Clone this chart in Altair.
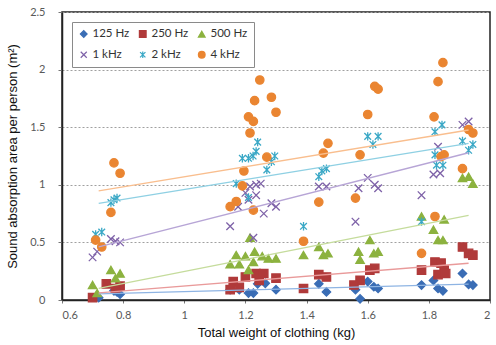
import altair as alt
import pandas as pd

series_names = ["125 Hz", "250 Hz", "500 Hz", "1 kHz", "2 kHz", "4 kHz"]

# 125 Hz (blue diamonds)
x_125 = [0.72, 0.77, 0.78, 0.79, 1.15, 1.18, 1.226, 1.24, 1.265, 1.30, 1.21,
         1.44, 1.465, 1.60, 1.62, 1.634, 1.575, 1.56,
         1.776, 1.815, 1.91, 1.93, 1.944, 1.83, 1.846]
y_125 = [0.02, 0.08, 0.07, 0.05, 0.09, 0.09, 0.06, 0.14, 0.145, 0.09, 0.06,
         0.14, 0.07, 0.16, 0.115, 0.10, 0.01, 0.09,
         0.13, 0.17, 0.23, 0.135, 0.13, 0.10, 0.08]

# 250 Hz (red squares)
x_250 = [0.70, 0.745, 0.79, 0.775, 1.16, 1.20, 1.235, 1.26, 1.30, 1.18, 1.245, 1.15,
         1.39, 1.44, 1.465, 1.607, 1.623, 1.575, 1.555,
         1.91, 1.93, 1.944, 1.776, 1.82, 1.84, 1.85, 1.83, 1.855]
y_250 = [0.02, 0.14, 0.12, 0.10, 0.16, 0.20, 0.23, 0.23, 0.19, 0.11, 0.17, 0.09,
         0.10, 0.22, 0.20, 0.26, 0.275, 0.17, 0.13,
         0.46, 0.405, 0.39, 0.26, 0.33, 0.32, 0.26, 0.22, 0.23]

# 500 Hz (green triangles)
x_500 = [0.70, 0.715, 0.76, 0.775, 0.79,
         1.215, 1.17, 1.20, 1.23, 1.255, 1.275, 1.30, 1.15, 1.18, 1.226, 1.21,
         1.39, 1.44, 1.455, 1.47, 1.607, 1.57, 1.575, 1.62, 1.634,
         1.91, 1.93, 1.944, 1.776, 1.85, 1.815, 1.83, 1.846]
y_500 = [0.13, 0.06, 0.26, 0.19, 0.23,
         0.54, 0.39, 0.38, 0.42, 0.38, 0.36, 0.36, 0.31, 0.31, 0.33, 0.26,
         0.39, 0.46, 0.39, 0.405, 0.52, 0.42, 0.35, 0.405, 0.42,
         1.06, 1.07, 1.01, 0.725, 0.70, 0.61, 0.52, 0.52]

# 1 kHz (purple crosses)
x_1k = [0.70, 0.715, 0.76, 0.775, 0.79,
        1.235, 1.215, 1.20, 1.235, 1.21, 1.25, 1.176, 1.285, 1.30, 1.26, 1.15, 1.226,
        1.44, 1.465, 1.60, 1.623, 1.634, 1.57, 1.56,
        1.91, 1.93, 1.83, 1.815, 1.837, 1.776]
y_1k = [0.37, 0.42, 0.53, 0.51, 0.50,
        1.00, 0.985, 0.93, 0.91, 0.87, 1.01, 0.81, 0.84, 0.81, 0.75, 0.64, 0.54,
        0.985, 0.985, 1.06, 1.00, 0.97, 0.97, 0.68,
        1.52, 1.55, 1.33, 1.09, 1.10, 0.91]

# 2 kHz (cyan asterisks)
x_2k = [0.71, 0.73, 0.76, 0.77, 0.78,
        1.24, 1.235, 1.19, 1.21, 1.225, 1.27, 1.296, 1.285, 1.17, 1.21,
        1.39, 1.465, 1.44, 1.45, 1.60, 1.634, 1.617,
        1.843, 1.82, 1.91, 1.944, 1.93, 1.82, 1.825, 1.846, 1.776]
y_2k = [0.57, 0.59, 0.845, 0.87, 0.885,
        1.37, 1.29, 1.23, 1.23, 1.25, 1.13, 1.25, 1.20, 1.01, 0.89,
        0.64, 1.14, 1.07, 1.12, 1.42, 1.42, 1.35,
        1.52, 1.46, 1.38, 1.35, 1.30, 1.26, 1.17, 1.17, 0.68]

# 4 kHz (orange circles)
x_4k = [0.71, 0.73, 0.76, 0.77, 0.79,
        1.247, 1.23, 1.285, 1.30, 1.21, 1.226, 1.215, 1.27, 1.195, 1.19, 1.17, 1.15, 1.226,
        1.39, 1.47, 1.455, 1.44, 1.60, 1.623, 1.634, 1.575, 1.56,
        1.846, 1.83, 1.817, 1.93, 1.944, 1.84, 1.85, 1.91, 1.82, 1.776]
y_4k = [0.52, 0.46, 0.76, 1.19, 1.10,
        1.91, 1.73, 1.76, 1.63, 1.59, 1.55, 1.45, 1.24, 1.12, 0.99, 0.855, 0.81, 0.78,
        0.51, 1.36, 1.275, 0.85, 1.61, 1.855, 1.83, 1.26, 0.885,
        2.06, 1.895, 1.59, 1.48, 1.45, 1.245, 1.26, 1.14, 0.725, 0.405]

x_ticks = [0.6, 0.8, 1.0, 1.2, 1.4, 1.6, 1.8, 2.0]
y_ticks = [0, 0.5, 1.0, 1.5, 2.0, 2.5]

rows = []
for name, xs, ys in zip(series_names,
                        [x_125, x_250, x_500, x_1k, x_2k, x_4k],
                        [y_125, y_250, y_500, y_1k, y_2k, y_4k]):
    for a, b in zip(xs, ys):
        rows.append({"series": name, "x": a, "y": b})
df = pd.DataFrame(rows)

stroke_colors = ["#3A6DB5", "#B03A3A", "#8CB23F", "#7E62A8", "#3AA8C6", "#EA8531"]
fill_colors = ["#3A6DB5", "#B03A3A", "#8CB23F", "#FFFFFF00", "#FFFFFF00", "#EA8531"]
line_colors = ["#8EB4E3", "#E99A9A", "#C5DC9C", "#B7A5D6", "#8FD0E3", "#F9BE8E"]
shapes = ["diamond", "square", "triangle-up",
          "M-0.9,-0.9L0.9,0.9M-0.9,0.9L0.9,-0.9",
          "M-0.8,-0.8L0.8,0.8M-0.8,0.8L0.8,-0.8M0,-1L0,1",
          "circle"]

xscale = alt.Scale(domain=[0.6, 2.0], nice=False, zero=False)
yscale = alt.Scale(domain=[0, 2.5], nice=False)

x_enc = alt.X("x:Q", scale=xscale,
              axis=alt.Axis(title="Total weight of clothing (kg)", values=x_ticks,
                            format=".1~f", grid=False, tickSize=3, labelPadding=6,
                            titlePadding=6))
y_enc = alt.Y("y:Q", scale=yscale,
              axis=alt.Axis(title="Sound absorption area per person (m²)", values=y_ticks,
                            format=".1~f", grid=True, gridDash=[2, 2], gridColor="#A0A0A0",
                            tickSize=4, labelPadding=13, titlePadding=10))

leg = alt.Legend(title=None, orient="top-left", offset=10, columns=3, direction="horizontal",
                 padding=6, strokeColor="#8a8a8a", fillColor="white",
                 labelFont="Lato", labelFontSize=11.5, labelColor="#333333",
                 symbolSize=45, symbolStrokeWidth=1.2, columnPadding=6, rowPadding=8,
                 labelOffset=3)

points = alt.Chart(df).mark_point(size=70, strokeWidth=1.3, opacity=1).encode(
    x=x_enc,
    y=y_enc,
    stroke=alt.Stroke("series:N", scale=alt.Scale(domain=series_names, range=stroke_colors), legend=leg),
    fill=alt.Fill("series:N", scale=alt.Scale(domain=series_names, range=fill_colors), legend=leg),
    shape=alt.Shape("series:N", scale=alt.Scale(domain=series_names, range=shapes), legend=leg),
)

lines = alt.Chart(df).transform_regression(
    "x", "y", groupby=["series"], extent=[0.72, 1.93]
).mark_line(strokeWidth=1.3).encode(
    x=alt.X("x:Q", scale=xscale),
    y=alt.Y("y:Q", scale=yscale),
    color=alt.Color("series:N", scale=alt.Scale(domain=series_names, range=line_colors), legend=None),
)

chart = alt.layer(points, lines).properties(
    width=428, height=288,
    autosize=alt.AutoSizeParams(type="none"),
    padding={"left": 62, "top": 12, "right": 6, "bottom": 45},
).configure_view(
    stroke="#222222", strokeWidth=1.5
).configure_axis(
    labelFont="Lato", labelFontSize=11, labelColor="#595959",
    titleFont="Liberation Sans", titleFontSize=13, titleFontWeight="normal", titleColor="#111111",
    domainColor="#222222", domainWidth=1.5, tickColor="#777777",
)

chart.save("out.html", embed_options={"renderer": "svg", "actions": False})
